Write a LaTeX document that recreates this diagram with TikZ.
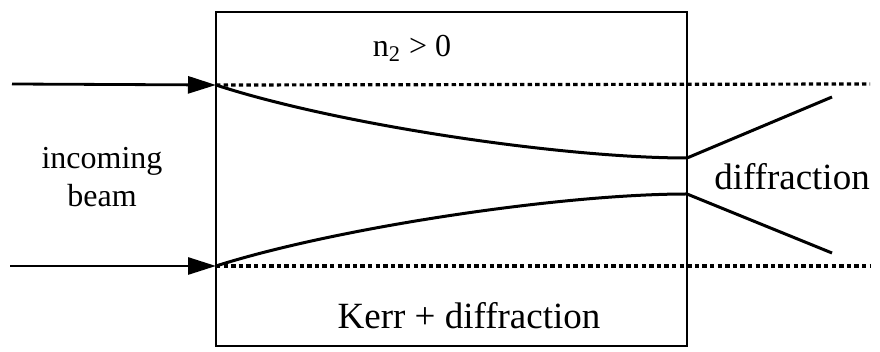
\documentclass[tikz,border=0pt]{standalone}
\usepackage{fontspec}
\setmainfont{Liberation Serif}
\usetikzlibrary{positioning,arrows.meta,calc}
\tikzset{
  beamin/.style={-{Triangle[length=14pt,width=8.5pt]},line width=1.4pt},
  beam/.style={line width=1.5pt},
  axisln/.style={line width=1.6pt,dash pattern=on 2.2pt off 1.6pt},
  kerrbox/.style={line width=1.4pt},
  lbl/.style={font=\fontsize{16}{19}\selectfont,align=center,inner sep=1pt},
  biglbl/.style={font=\fontsize{18.5}{22}\selectfont,inner sep=1pt},
}
\begin{document}
\begin{tikzpicture}[x=0.5pt,y=-0.5pt]
  \useasboundingbox (0,0) rectangle (880,352);
  % medium
  \coordinate (boxnw) at (216,12);
  \coordinate (boxse) at (687,346);
  \draw[kerrbox] (boxnw) rectangle (boxse);
  % beam edges
  \coordinate (srcup) at (12,84);
  \coordinate (srclo) at (10,266);
  \coordinate (inup) at (216,85);
  \coordinate (inlo) at (216,266);
  \coordinate (outup) at (687,158);
  \coordinate (outlo) at (687,194);
  \coordinate (endup) at (832,97);
  \coordinate (endlo) at (832,253);
  \coordinate (refup) at (870,84);
  \coordinate (reflo) at (870,266);
  \draw[axisln] (inup) -- (refup);
  \draw[axisln] (inlo) -- (reflo);
  \draw[beamin] (srcup) -- (inup);
  \draw[beamin] (srclo) -- (inlo);
  \draw[beam] (inup) .. controls (335,124) and (560,158) .. (outup) -- (endup);
  \draw[beam] (inlo) .. controls (335,228) and (560,194) .. (outlo) -- (endlo);
  % labels
  \node[lbl] (incoming) at (102,177) {incoming\\beam};
  \node[lbl] (ntwo) at (412,48) {n\textsubscript{2} > 0};
  \node[biglbl] (diffr) at (792,177) {diffraction};
  \node[biglbl] (kerr) at (469,316) {Kerr + diffraction};
\end{tikzpicture}
\end{document}
